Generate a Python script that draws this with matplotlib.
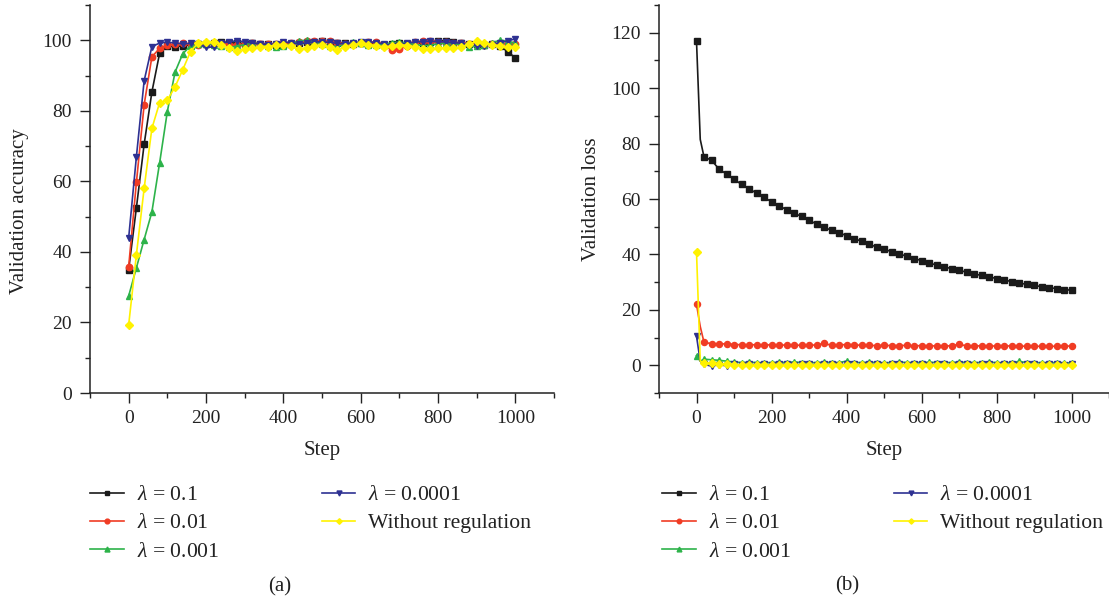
import matplotlib
matplotlib.use('Agg')
import matplotlib.pyplot as plt
from matplotlib.ticker import MultipleLocator

plt.rcParams['font.family'] = ['Liberation Serif', 'DejaVu Serif']
plt.rcParams['mathtext.fontset'] = 'custom'
plt.rcParams['mathtext.rm'] = 'Liberation Serif'
plt.rcParams['mathtext.it'] = 'Liberation Serif:italic'

# ---- данные ----
labels = [r'$\lambda$ = 0.1', r'$\lambda$ = 0.01', r'$\lambda$ = 0.001',
          r'$\lambda$ = 0.0001', 'Without regulation']
colors = ['#1a1a1a', '#f03c24', '#2db34a', '#2e3192', '#fff200']
markers = ['s', 'o', '^', 'v', 'D']

acc_steps = list(range(0, 1001, 20))

acc_01 = [35.0, 52.5, 70.5, 85.3, 96.3, 98.3, 98.2, 98.4, 98.7, 98.9,
          99.0, 99.1, 99.5, 99.3, 99.2, 99.0, 99.1, 99.0, 98.9, 98.8,
          98.7, 99.0, 99.2, 99.4, 99.6, 99.7, 99.5, 99.2, 99.3, 99.0,
          99.1, 99.0, 98.9, 98.8, 99.0, 99.2, 99.0, 99.1, 99.3, 99.5,
          99.8, 99.8, 99.5, 99.2, 99.0, 98.9, 98.8, 98.9, 98.4, 96.8,
          95.0]
acc_001 = [35.8, 59.7, 81.7, 95.3, 97.7, 98.6, 99.0, 99.1, 98.9, 98.8,
           99.0, 99.2, 99.0, 98.8, 98.7, 98.9, 99.1, 99.0, 98.9, 99.0,
           99.2, 99.3, 99.5, 99.7, 99.9, 99.8, 99.7, 99.3, 99.0, 99.0,
           99.2, 99.4, 99.6, 98.8, 97.2, 97.4, 98.5, 99.5, 99.8, 99.8,
           99.6, 99.4, 99.2, 99.3, 99.0, 98.9, 98.8, 99.0, 99.1, 99.0,
           99.0]
acc_0001 = [27.5, 35.5, 43.5, 51.3, 65.2, 79.8, 91.0, 96.2, 98.4, 98.9,
            99.0, 98.8, 98.5, 98.0, 98.3, 98.8, 99.2, 99.0, 98.5, 98.2,
            98.3, 99.0, 99.8, 100.0, 99.6, 99.0, 98.4, 98.2, 98.8, 99.4,
            99.3, 98.8, 98.6, 98.8, 99.3, 99.5, 99.2, 98.8, 98.5, 98.6,
            99.0, 99.2, 99.0, 98.8, 98.2, 98.3, 98.8, 99.3, 100.0, 99.8,
            99.2]
acc_00001 = [44.0, 67.0, 88.5, 98.2, 99.2, 99.5, 99.2, 99.0, 99.1, 98.9,
             98.0, 98.1, 99.2, 99.6, 99.8, 99.6, 99.2, 99.0, 98.8, 98.9,
             99.6, 99.3, 99.0, 99.2, 99.5, 99.6, 99.4, 99.1, 99.0, 99.2,
             99.5, 99.6, 99.3, 99.0, 98.5, 98.7, 99.2, 99.5, 99.6, 99.7,
             99.6, 99.5, 99.3, 99.2, 98.8, 98.5, 98.3, 98.8, 99.3, 99.8,
             100.4]
acc_none = [19.3, 39.2, 58.0, 75.0, 82.3, 83.0, 86.8, 91.7, 96.8, 99.3,
            99.5, 99.5, 98.8, 97.7, 97.0, 97.5, 97.7, 98.2, 98.2, 98.6,
            98.8, 98.3, 97.5, 97.8, 98.5, 98.6, 98.0, 97.3, 98.0, 98.6,
            99.2, 98.8, 98.5, 98.0, 98.3, 98.8, 98.5, 98.2, 97.6, 97.6,
            97.8, 97.8, 97.8, 98.0, 99.0, 99.7, 99.2, 98.8, 98.3, 98.0,
            98.0]

loss_steps = [0, 10] + list(range(20, 1001, 20))

loss_01 = [117.0, 81.5, 75.2, 74.0, 70.8, 69.0, 67.1, 65.3, 63.7, 62.1,
           60.6, 59.0, 57.5, 56.2, 54.9, 53.7, 52.3, 51.0, 49.8, 48.7,
           47.8, 46.8, 45.7, 44.8, 43.7, 42.7, 41.9, 41.0, 40.2, 39.4,
           38.5, 37.8, 36.9, 36.2, 35.5, 34.9, 34.3, 33.6, 33.0, 32.4,
           31.9, 31.3, 30.8, 30.2, 29.7, 29.2, 28.8, 28.4, 28.0, 27.7,
           27.3, 27.1]
loss_001 = [22.0, 14.0, 8.3, 7.8, 7.6, 7.8, 7.5, 7.4, 7.4, 7.4,
            7.3, 7.4, 7.3, 7.3, 7.3, 7.2, 7.3, 7.3, 7.9, 7.2,
            7.3, 7.5, 7.4, 7.2, 7.2, 7.1, 7.2, 7.1, 7.1, 7.2,
            7.0, 7.1, 7.0, 7.0, 7.0, 7.0, 7.6, 7.0, 7.0, 7.0,
            6.9, 7.0, 7.1, 6.9, 6.9, 6.9, 6.8, 6.9, 6.8, 6.9,
            7.0, 6.9]
loss_0001 = [3.5, 1.5, 2.2, 2.0, 1.8, 1.5, 1.2, 1.0, 1.1, 1.0,
             0.9, 1.0, 1.1, 1.0, 1.2, 1.0, 0.9, 1.0, 1.1, 1.0,
             1.0, 1.5, 1.0, 1.0, 1.1, 1.0, 0.9, 1.0, 1.2, 1.0,
             1.0, 1.0, 1.1, 1.0, 1.0, 1.0, 1.2, 1.0, 1.0, 1.0,
             1.1, 1.0, 0.9, 1.0, 1.4, 1.0, 0.9, 1.0, 0.9, 1.0,
             0.9, 0.9]
loss_00001 = [10.5, 1.5, 0.3, -0.3, 0.2, -0.2, 0.3, 0.2, 0.3, 0.2,
              0.3, 0.2, 0.4, 0.3, 0.2, 0.3, 0.3, 0.2, 0.3, 0.3,
              0.2, 0.3, 0.3, 0.2, 0.3, 0.3, 0.2, 0.3, 0.3, 0.2,
              0.3, 0.3, 0.2, 0.3, 0.3, 0.2, 0.3, 0.3, 0.2, 0.3,
              0.3, 0.2, 0.3, 0.3, 0.2, 0.3, 0.3, 0.2, 0.3, 0.3,
              0.2, 0.3]
loss_none = [41.0, 1.5, 1.0, 0.8, 0.6, 0.4, 0.2, 0.1, 0.0, 0.0,
             0.0, 0.0, 0.0, 0.0, 0.0, 0.0, 0.0, 0.0, 0.0, 0.0,
             0.0, 0.0, 0.0, 0.0, 0.0, 0.0, 0.0, 0.0, 0.0, 0.0,
             0.0, 0.0, 0.0, 0.0, 0.0, 0.0, 0.0, 0.0, 0.0, 0.0,
             0.0, 0.0, 0.0, 0.0, 0.0, 0.0, 0.0, 0.0, 0.0, 0.0,
             0.0, 0.0]

acc_series = [acc_01, acc_001, acc_0001, acc_00001, acc_none]
loss_series = [loss_01, loss_001, loss_0001, loss_00001, loss_none]

fig = plt.figure(figsize=(11.09, 6.0), dpi=100)
ax1 = fig.add_axes([90 / 1109, 207 / 600, 464 / 1109, 388 / 600])
ax2 = fig.add_axes([659 / 1109, 207 / 600, 450 / 1109, 388 / 600])

msize = {'s': 4.2, 'o': 4.6, '^': 4.8, 'v': 4.8, 'D': 3.8}

for vals, c, m, lab in zip(acc_series, colors, markers, labels):
    ax1.plot(acc_steps, vals, color=c, marker=m, ms=msize[m], lw=1.2,
             mec=c, label=lab, clip_on=False)

loss_marks = [0] + list(range(2, len(loss_steps)))
for vals, c, m, lab in zip(loss_series, colors, markers, labels):
    ax2.plot(loss_steps, vals, color=c, marker=m, ms=msize[m] * 0.95, lw=1.2,
             mec=c, label=lab, markevery=loss_marks, clip_on=False)

def style_axis(ax, ylo, yhi, ylabel):
    ax.set_xlim(-100, 1100)
    ax.set_ylim(ylo, yhi)
    ax.xaxis.set_major_locator(MultipleLocator(200))
    ax.xaxis.set_minor_locator(MultipleLocator(100))
    ax.yaxis.set_major_locator(MultipleLocator(20))
    ax.yaxis.set_minor_locator(MultipleLocator(10))
    ax.spines['top'].set_visible(False)
    ax.spines['right'].set_visible(False)
    for s in ('left', 'bottom'):
        ax.spines[s].set_linewidth(1.1)
        ax.spines[s].set_color('#222222')
    ax.tick_params(which='major', direction='out', length=7, width=1.0,
                   labelsize=14, colors='#222222')
    ax.tick_params(which='minor', direction='out', length=3.5, width=1.0,
                   colors='#222222')
    ax.tick_params(axis='y', which='major', pad=6)
    ax.tick_params(axis='x', which='major', pad=5)
    ax.set_xlabel('Step', fontsize=15, color='#222222')
    ax.xaxis.set_label_coords(0.5, -0.147)
    ax.xaxis.label.set_va('center')
    ax.set_ylabel(ylabel, fontsize=15, color='#222222')
    ax.yaxis.label.set_va('center')

style_axis(ax1, 0, 110, 'Validation accuracy')
ax1.yaxis.set_label_coords(-70 / 464, 0.47)
style_axis(ax2, -10, 130, 'Validation loss')
ax2.yaxis.set_label_coords(-67 / 450, 0.5)

for ax, x0 in ((ax1, 90), (ax2, 662)):
    ax.legend(loc='upper left', bbox_to_anchor=(x0 / 1109, 1 - 485 / 600),
              bbox_transform=fig.transFigure, ncol=2, frameon=False,
              borderpad=0, borderaxespad=0, handlelength=1.55,
              handletextpad=0.6, columnspacing=4.75, labelspacing=0.37,
              fontsize=15.6, markerscale=0.75, labelcolor='#222222')

fig.text(280 / 1109, 1 - 587 / 600, '(a)', ha='center', va='center',
         fontsize=15, color='#222222')
fig.text(847 / 1109, 1 - 586 / 600, '(b)', ha='center', va='center',
         fontsize=15, color='#222222')

fig.savefig('out.png', dpi=100)
